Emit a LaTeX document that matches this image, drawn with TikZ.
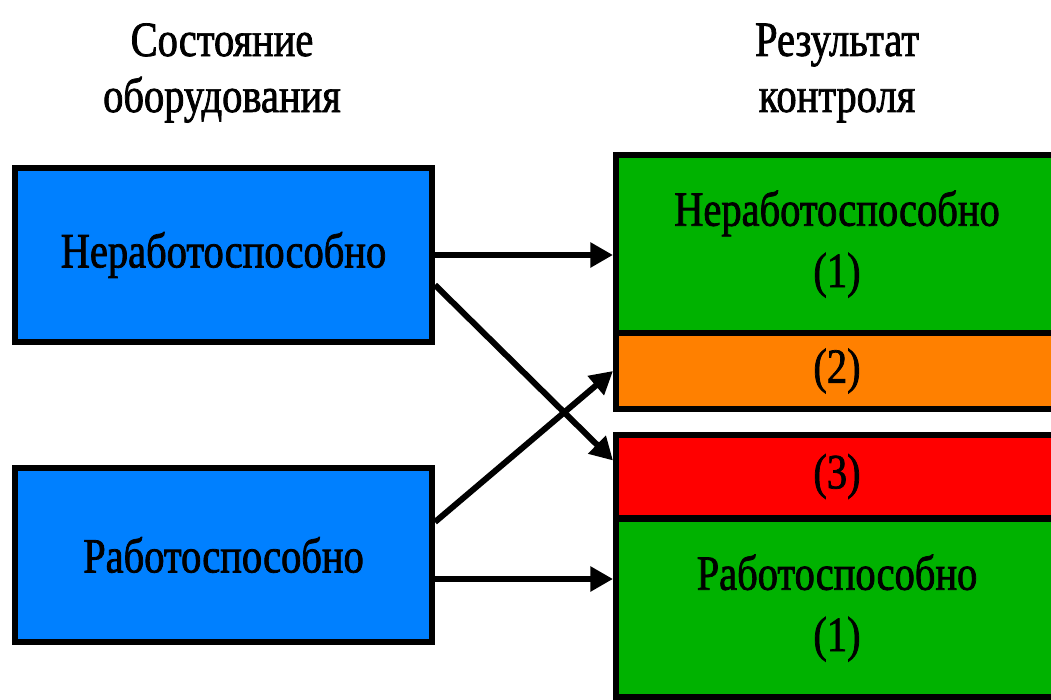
\documentclass[tikz,border=0pt]{standalone}
\usepackage{fontspec}
\setmainfont{Liberation Serif}[FakeStretch=0.82,FakeBold=1.5]
\usetikzlibrary{arrows.meta,calc}
\definecolor{boxblue}{RGB}{0,128,255}
\definecolor{okgreen}{RGB}{0,178,0}
\definecolor{warnorange}{RGB}{255,128,0}
\definecolor{failred}{RGB}{255,0,0}
\begin{document}
\begin{tikzpicture}[x=0.75pt,y=-0.75pt,
  box/.style={draw=black, line width=4.5pt, rectangle, inner sep=0pt,
    align=center, font=\fontsize{37}{46}\selectfont},
  state/.style={box, fill=boxblue, minimum width=312.75pt, minimum height=130.5pt},
  result/.style={box, minimum width=331.5pt},
  link/.style={line width=4.5pt, -{Triangle[length=17pt,width=18pt]}},
  heading/.style={align=center, font=\fontsize{37}{42}\selectfont}]
\useasboundingbox (0,0) rectangle (1051,700);
\begin{scope}
\clip (0,0) rectangle (1051,700);

% column headings
\node[heading] (hstate) at (222,73) {Состояние\\оборудования};
\node[heading] (hresult) at (837,73) {Результат\\контроля};

% equipment states
\node[state] (bad) at (223.5,255) {Неработоспособно};
\node[state] (good) at (223.5,555) {Работоспособно};

% inspection outcomes
\node[result, fill=okgreen, minimum height=133.5pt] (rbad) at (837,244) {Неработоспособно\\(1)};
\node[result, fill=warnorange, minimum height=57pt] (miss) at (837,371) {(2)};
\node[result, fill=failred, minimum height=62.25pt] (false) at (837,476.5) {(3)};
\node[result, fill=okgreen, minimum height=134pt] (rgood) at (837,608) {Работоспособно\\(1)};
\end{scope}

% arrow end points on the box sides
\coordinate (badlow) at ($(bad.east)+(0,30)$);
\coordinate (falsein) at ($(false.west)+(0,-16)$);
\coordinate (goodhigh) at ($(good.east)+(0,-33)$);
\coordinate (goodlow) at ($(good.east)+(0,24)$);

% transitions
\draw[link] (bad.east) -- (bad.east -| rbad.west);
\draw[link] (badlow) -- (falsein);
\draw[link] (goodhigh) -- (miss.west);
\draw[link] (goodlow) -- (goodlow -| rgood.west);
\end{tikzpicture}
\end{document}
